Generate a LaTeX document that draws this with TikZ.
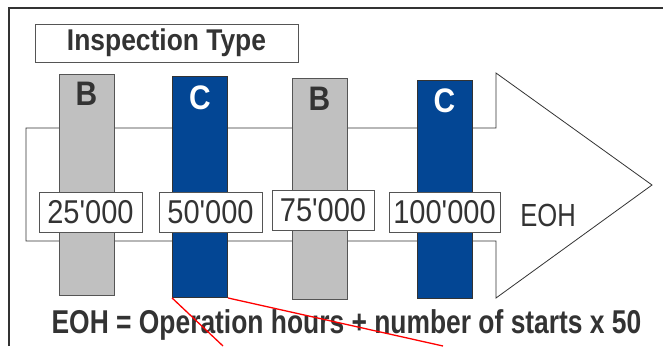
\documentclass[tikz,border=0pt]{standalone}
\usepackage{fontspec}
\newfontfamily\diagfont{Liberation Sans}[FakeStretch=0.88]
\newfontfamily\narrowfont{Liberation Sans}[FakeStretch=0.8]
\usepackage{tikz}
\usetikzlibrary{positioning,calc}
\definecolor{barblue}{RGB}{3,70,148}
\definecolor{bargray}{RGB}{192,192,192}
\definecolor{txtgray}{RGB}{51,51,51}
\definecolor{edgegray}{RGB}{85,85,85}
\tikzset{
    frame/.style={draw=txtgray, line width=1.2pt},
    bigarrow/.style={draw=txtgray, fill=white, line width=0.8pt},
    bar/.style={draw=edgegray, line width=0.9pt, minimum width=55pt, minimum height=221pt, inner sep=0pt},
    barB/.style={bar, fill=bargray},
    barC/.style={bar, fill=barblue, draw=txtgray},
    letter/.style={font=\diagfont\bfseries\fontsize{34}{34}\selectfont},
    valbox/.style={draw=edgegray, fill=white, line width=0.9pt, minimum height=40pt, inner sep=0pt,
        text=txtgray, font=\diagfont\fontsize{33}{33}\selectfont},
    titlebox/.style={draw=edgegray, fill=white, line width=0.9pt, minimum width=263pt, minimum height=38pt,
        inner sep=0pt, text=txtgray, font=\diagfont\bfseries\fontsize{30}{30}\selectfont},
    callout/.style={red, line width=1.3pt}
}
\begin{document}
\begin{tikzpicture}[x=1pt, y=-1pt]
\useasboundingbox (0,0) rectangle (663,346);
% frame
\draw[frame] (9,346) -- (9,8) -- (663,8);
% arrow
\draw[bigarrow] (26,128) -- (496,128) -- (496,73) -- (652,185) -- (496,298) -- (496,241) -- (26,241) -- cycle;
\node[titlebox] (title) at (166.5,43) {Inspection Type};
% bars
\node[barB] (B1) at (86.5,185) {};
\node[barC] (C1) at (200,187) {};
\node[barB] (B2) at (319.5,189) {};
\node[barC, minimum height=218pt] (C2) at (444.5,189) {};
\node[letter, text=txtgray, below=5pt of B1.north] (lB1) {B};
\node[letter, text=white, below=6pt of C1.north] (lC1) {C};
\node[letter, text=txtgray, below=6pt of B2.north] (lB2) {B};
\node[letter, text=white, below=6pt of C2.north] (lC2) {C};
% values
\node[valbox, minimum width=103pt] (v1) at (90.5,212) {25'000};
\node[valbox, minimum width=103pt] (v2) at (210.5,212) {50'000};
\node[valbox, minimum width=102pt] (v3) at (323,210) {75'000};
\node[valbox, minimum width=111pt] (v4) at (444.5,212) {100'000};
\node[text=txtgray, font=\narrowfont\fontsize{32}{32}\selectfont] (eoh) at (548,215) {EOH};
\node[text=txtgray, font=\narrowfont\bfseries\fontsize{33}{33}\selectfont] (formula) at (346.5,325)
    {EOH = Operation hours + number of starts x 50};
% red callout lines
\coordinate (endA) at (223,346);
\coordinate (endB) at (443,346);
\draw[callout] (C1.south west) -- (endA);
\draw[callout] (C1.south east) -- (endB);
\end{tikzpicture}
\end{document}
